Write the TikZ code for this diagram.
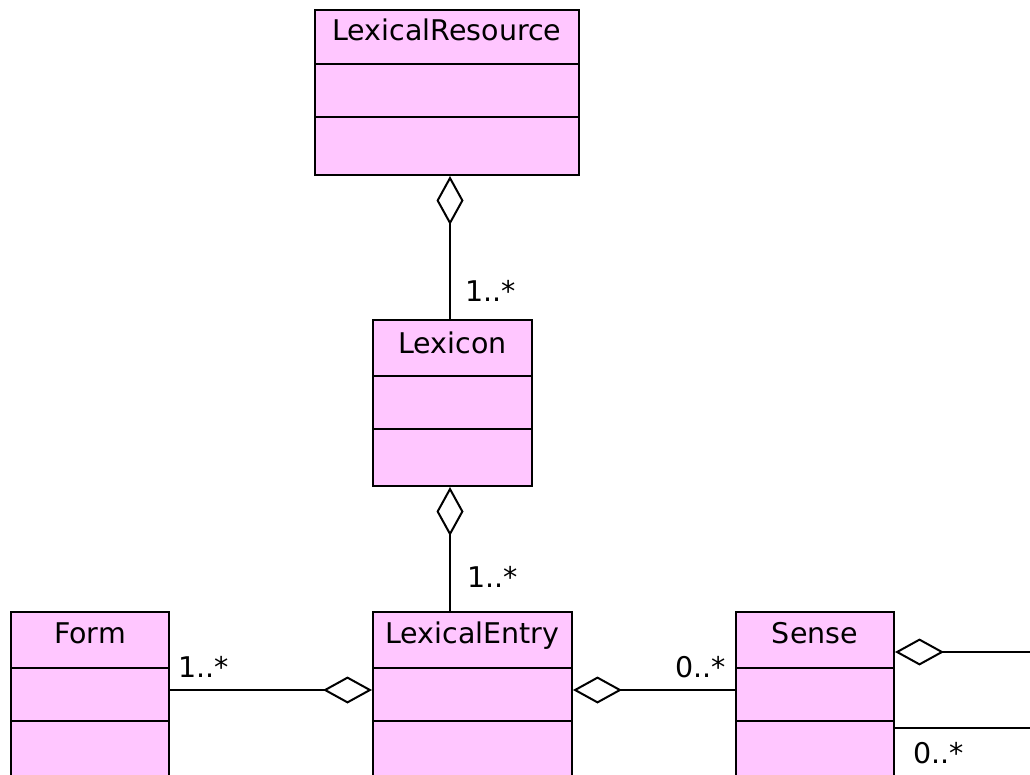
\documentclass[tikz,border=0pt]{standalone}
\usepackage{fontspec}
\setmainfont{DejaVu Sans}
\usetikzlibrary{arrows.meta,calc}
\definecolor{classfill}{RGB}{255,198,255}
\begin{document}
\begin{tikzpicture}[x=1pt,y=-1pt,
  umlbox/.style={draw=black, fill=classfill, line width=2pt, rectangle, inner sep=0pt},
  divider/.style={line width=2pt},
  classname/.style={anchor=base, inner sep=0pt, font=\fontsize{28.5}{30}\selectfont},
  mult/.style={anchor=base west, inner sep=0pt, font=\fontsize{28.5}{30}\selectfont},
  assoc/.style={line width=2pt},
  agg/.style={line width=2pt, {Diamond[open,length=49pt,width=27pt]}-}
]
\useasboundingbox (0,0) rectangle (1030,775);
\clip (0,0) rectangle (1030,775);

% class boxes
\node[umlbox, minimum width=264pt, minimum height=165pt] (lr) at (447,92.5) {};
\node[classname] (lrt) at (447,41) {LexicalResource};
\draw[divider] ($(lr.north west)+(0,55)$) -- ($(lr.north east)+(0,55)$);
\draw[divider] ($(lr.north west)+(0,108)$) -- ($(lr.north east)+(0,108)$);

\node[umlbox, minimum width=159pt, minimum height=166pt] (lex) at (452.5,403) {};
\node[classname] (lext) at (452.5,353) {Lexicon};
\draw[divider] ($(lex.north west)+(0,57)$) -- ($(lex.north east)+(0,57)$);
\draw[divider] ($(lex.north west)+(0,110)$) -- ($(lex.north east)+(0,110)$);

\node[umlbox, minimum width=158pt, minimum height=188pt] (form) at (90,706) {};
\node[classname] (formt) at (90,643) {Form};
\draw[divider] ($(form.north west)+(0,57)$) -- ($(form.north east)+(0,57)$);
\draw[divider] ($(form.north west)+(0,110)$) -- ($(form.north east)+(0,110)$);

\node[umlbox, minimum width=199pt, minimum height=188pt] (le) at (472.5,706) {};
\node[classname] (let) at (472.5,643) {LexicalEntry};
\draw[divider] ($(le.north west)+(0,57)$) -- ($(le.north east)+(0,57)$);
\draw[divider] ($(le.north west)+(0,110)$) -- ($(le.north east)+(0,110)$);

\node[umlbox, minimum width=158pt, minimum height=188pt] (sense) at (815,706) {};
\node[classname] (senset) at (815,643) {Sense};
\draw[divider] ($(sense.north west)+(0,57)$) -- ($(sense.north east)+(0,57)$);
\draw[divider] ($(sense.north west)+(0,110)$) -- ($(sense.north east)+(0,110)$);

% aggregation connectors
\coordinate (axis) at (450,0);
\coordinate (row) at (0,690);
\coordinate (senseout) at (1040,652);
\coordinate (senseout2) at (1040,728);
\draw[agg] (lr.south -| axis) -- (lex.north -| axis);
\draw[agg] (lex.south -| axis) -- (le.north -| axis);
\draw[agg] (le.west |- row) -- (form.east |- row);
\draw[agg] (le.east |- row) -- (sense.west |- row);
\draw[agg] (sense.east |- senseout) -- (senseout);
\draw[assoc] (sense.east |- senseout2) -- (senseout2);

% multiplicities
\node[mult] (m1) at (465,302) {1..*};
\node[mult] (m2) at (467,587) {1..*};
\node[mult] (m3) at (178,677) {1..*};
\node[mult] (m4) at (675,677) {0..*};
\node[mult] (m5) at (913,763) {0..*};
\end{tikzpicture}
\end{document}
